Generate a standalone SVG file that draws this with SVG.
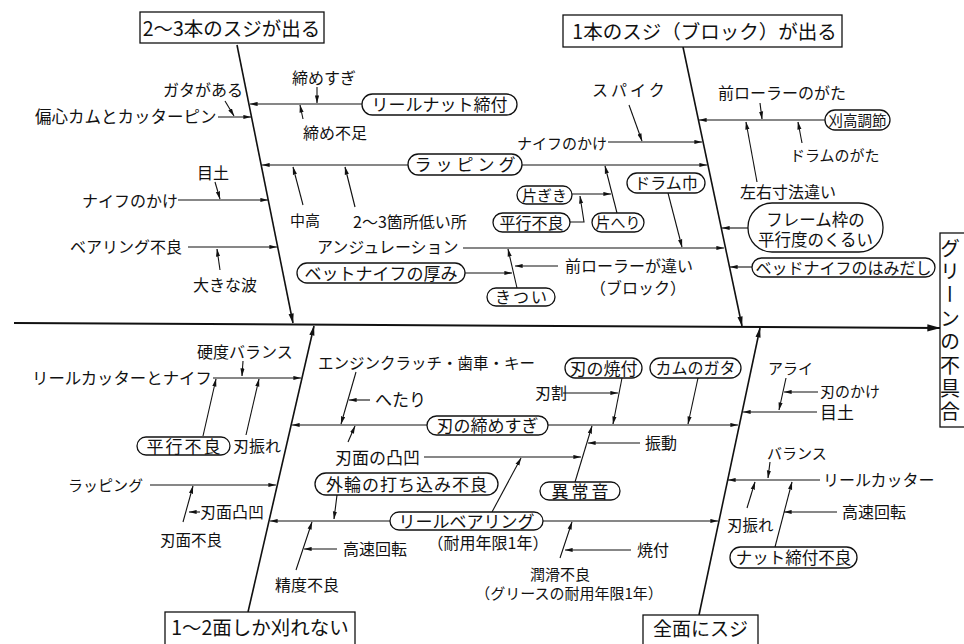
<svg xmlns="http://www.w3.org/2000/svg" width="964" height="644" viewBox="0 0 964 644">
<style>
svg{font-family:"Noto Sans CJK JP","Noto Sans CJK SC",sans-serif;font-size:16px}
text{fill:#111}
.m{text-anchor:middle}
.c line,.c path{stroke:#111;stroke-width:1.1;fill:none;marker-end:url(#ah)}
.c .bone{stroke-width:1.6;marker-end:url(#ah2)}
.c .sp{stroke-width:2;marker-end:url(#AH)}
.pill{fill:#fff;stroke:#111;stroke-width:1.3}
.box{fill:#fff;stroke:#111;stroke-width:1.3}
</style>
<defs>
<marker id="ah" viewBox="0 0 10 6" refX="9.5" refY="3" markerWidth="8" markerHeight="5" markerUnits="userSpaceOnUse" orient="auto"><path d="M0,0.4 L10,3 L0,5.6 z" fill="#111"/></marker>
<marker id="ah2" viewBox="0 0 10 6" refX="9.5" refY="3" markerWidth="10" markerHeight="6" markerUnits="userSpaceOnUse" orient="auto"><path d="M0,0.4 L10,3 L0,5.6 z" fill="#111"/></marker>
<marker id="AH" viewBox="0 0 10 6" refX="9.5" refY="3" markerWidth="14" markerHeight="8" markerUnits="userSpaceOnUse" orient="auto"><path d="M0,0.3 L10,3 L0,5.7 z" fill="#111"/></marker>
</defs>
<rect width="964" height="644" fill="#fff"/>

<g id="connectors" class="c">
<line class="sp" x1="14" y1="323" x2="940" y2="328"/>
<line class="bone" x1="237" y1="45" x2="293" y2="323"/>
<line class="bone" x1="683" y1="47" x2="742" y2="326"/>
<line class="bone" x1="248" y1="612" x2="314" y2="326"/>
<line class="bone" x1="699" y1="615" x2="760" y2="328"/>
<line x1="362" y1="104" x2="250" y2="104"/>
<line x1="317" y1="87" x2="317" y2="103"/>
<line x1="303" y1="119" x2="300" y2="105"/>
<line x1="218" y1="117" x2="251" y2="117"/>
<line x1="225" y1="101" x2="234" y2="116"/>
<line x1="408" y1="165" x2="262" y2="165"/>
<line x1="522" y1="165" x2="707" y2="165"/>
<line x1="303" y1="205" x2="293" y2="167"/>
<line x1="355" y1="207" x2="345" y2="167"/>
<line x1="178" y1="200" x2="268" y2="200"/>
<line x1="215" y1="182" x2="220" y2="199"/>
<line x1="188" y1="247" x2="277" y2="247"/>
<line x1="220" y1="270" x2="217" y2="249"/>
<line x1="629" y1="105" x2="642" y2="141"/>
<line x1="608" y1="142" x2="702" y2="142"/>
<line x1="825" y1="120" x2="699" y2="120"/>
<line x1="760" y1="103" x2="762" y2="119"/>
<line x1="802" y1="143" x2="798" y2="122"/>
<line x1="757" y1="182" x2="746" y2="122"/>
<line x1="617" y1="213" x2="605" y2="166"/>
<line x1="572" y1="194" x2="611" y2="194"/>
<path d="M570,222 L584,222 L580,196"/>
<line x1="668" y1="193" x2="682" y2="247"/>
<line x1="463" y1="248" x2="724" y2="248"/>
<line x1="517" y1="288" x2="508" y2="249"/>
<line x1="465" y1="273" x2="512" y2="273"/>
<line x1="558" y1="266" x2="515" y2="266"/>
<line x1="748" y1="228" x2="722" y2="228"/>
<line x1="752" y1="267" x2="730" y2="267"/>
<line x1="213" y1="378" x2="301" y2="378"/>
<line x1="243" y1="361" x2="242" y2="376"/>
<line x1="203" y1="436" x2="216" y2="379"/>
<line x1="246" y1="435" x2="259" y2="379"/>
<line x1="427" y1="425" x2="292" y2="425"/>
<line x1="548" y1="425" x2="738" y2="425"/>
<line x1="356" y1="372" x2="341" y2="424"/>
<line x1="370" y1="400" x2="349" y2="400"/>
<line x1="348" y1="442" x2="355" y2="426"/>
<line x1="424" y1="457" x2="581" y2="457"/>
<line x1="492" y1="512" x2="521" y2="458"/>
<line x1="150" y1="485" x2="276" y2="485"/>
<line x1="183" y1="522" x2="193" y2="486"/>
<line x1="200" y1="512" x2="189" y2="512"/>
<line x1="390" y1="521" x2="270" y2="521"/>
<line x1="543" y1="521" x2="718" y2="521"/>
<line x1="337" y1="495" x2="334" y2="519"/>
<line x1="296" y1="570" x2="312" y2="522"/>
<line x1="337" y1="549" x2="304" y2="549"/>
<line x1="575" y1="482" x2="592" y2="426"/>
<line x1="640" y1="443" x2="588" y2="443"/>
<line x1="622" y1="378" x2="613" y2="424"/>
<line x1="563" y1="393" x2="618" y2="393"/>
<line x1="698" y1="378" x2="688" y2="424"/>
<line x1="560" y1="558" x2="572" y2="522"/>
<line x1="631" y1="550" x2="565" y2="550"/>
<line x1="817" y1="412" x2="743" y2="412"/>
<line x1="786" y1="378" x2="779" y2="410"/>
<line x1="818" y1="392" x2="784" y2="392"/>
<line x1="820" y1="480" x2="728" y2="480"/>
<line x1="770" y1="462" x2="768" y2="478"/>
<line x1="747" y1="508" x2="755" y2="482"/>
<line x1="775" y1="547" x2="792" y2="482"/>
<line x1="837" y1="512" x2="784" y2="512"/>
</g>

<g id="effect"><rect class="box" x="940" y="233" width="40" height="194"/><text x="950" y="238" font-size="20" writing-mode="vertical-rl" letter-spacing="3.4">グリーンの不具合</text></g>
<g id="cat1"><rect class="box" x="140" y="12" width="184" height="31"/><text class="m" x="231.5" y="35.5" font-size="19.5">2〜3本のスジが出る</text></g>
<g id="cat2"><rect class="box" x="563" y="15" width="279" height="32"/><text class="m" x="704.5" y="38.5" font-size="19.5">1本のスジ（ブロック）が出る</text></g>
<g id="cat3"><rect class="box" x="165" y="612" width="190" height="40"/><text class="m" x="260" y="635" font-size="19.5">1〜2面しか刈れない</text></g>
<g id="cat4"><rect class="box" x="643" y="615" width="115" height="40"/><text class="m" x="700.5" y="636" font-size="19">全面にスジ</text></g>

<g id="p-nut"><rect class="pill" x="362" y="94" width="155" height="21" rx="10.5"/><text class="m" x="439.5" y="111" font-size="17">リールナット締付</text></g>
<g id="p-lap"><rect class="pill" x="408" y="154" width="114" height="21" rx="10.5"/><text class="m" x="467" y="171" font-size="17" letter-spacing="4">ラッピング</text></g>
<g id="p-kata"><rect class="pill" x="517" y="186" width="55" height="18" rx="9"/><text class="m" x="544.5" y="200.7" font-size="15">片ぎき</text></g>
<g id="p-heiko1"><rect class="pill" x="493" y="213" width="77" height="19" rx="9.5"/><text class="m" x="531.5" y="228.5" font-size="16">平行不良</text></g>
<g id="p-kataheri"><rect class="pill" x="592" y="213" width="52" height="19" rx="9.5"/><text class="m" x="618" y="228" font-size="15">片へり</text></g>
<g id="p-drum"><rect class="pill" x="627" y="173" width="78" height="20" rx="10"/><text class="m" x="666" y="189" font-size="16">ドラム巾</text></g>
<g id="p-frame"><rect class="pill" x="748" y="203" width="135" height="49" rx="24"/><text class="m" x="815.5" y="226" font-size="16.5"><tspan x="815.5">フレーム枠の</tspan><tspan x="815.5" dy="20">平行度のくるい</tspan></text></g>
<g id="p-hamidashi"><rect class="pill" x="752" y="258" width="183" height="19" rx="9.5"/><text class="m" x="843.5" y="273.5" font-size="16">ベッドナイフのはみだし</text></g>
<g id="p-atsumi"><rect class="pill" x="297" y="263" width="168" height="20" rx="10"/><text class="m" x="381" y="279.5" font-size="17">ベットナイフの厚み</text></g>
<g id="p-kitsui"><rect class="pill" x="487" y="288" width="68" height="18" rx="9"/><text class="m" x="522" y="303" font-size="16" letter-spacing="2">きつい</text></g>
<g id="p-karitaka"><rect class="pill" x="825" y="110" width="65" height="20" rx="10"/><text class="m" x="857.5" y="125.5" font-size="14.5">刈高調節</text></g>
<g id="p-heiko2"><rect class="pill" x="137" y="437" width="93" height="18" rx="9"/><text class="m" x="184.5" y="452.5" font-size="17" letter-spacing="2">平行不良</text></g>
<g id="p-shime"><rect class="pill" x="427" y="416" width="121" height="19" rx="9.5"/><text class="m" x="487.5" y="432" font-size="17">刃の締めすぎ</text></g>
<g id="p-yaki"><rect class="pill" x="565" y="358" width="77" height="20" rx="10"/><text class="m" x="603.5" y="374.5" font-size="17">刃の焼付</text></g>
<g id="p-cam"><rect class="pill" x="650" y="358" width="91" height="20" rx="10"/><text class="m" x="695.5" y="374" font-size="16">カムのガタ</text></g>
<g id="p-gairin"><rect class="pill" x="315" y="473" width="183" height="22" rx="11"/><text class="m" x="407" y="490.5" font-size="17" letter-spacing="1">外輪の打ち込み不良</text></g>
<g id="p-ijo"><rect class="pill" x="540" y="482" width="80" height="18" rx="9"/><text class="m" x="581.5" y="497.5" font-size="17" letter-spacing="3">異常音</text></g>
<g id="p-bearing"><rect class="pill" x="390" y="512" width="153" height="18" rx="9"/><text class="m" x="466.5" y="527.5" font-size="17">リールベアリング</text></g>
<g id="p-nutfuryo"><rect class="pill" x="730" y="547" width="127" height="21" rx="10.5"/><text class="m" x="793.5" y="564" font-size="16.5">ナット締付不良</text></g>

<g id="labels">
<text x="292" y="84">締めすぎ</text>
<text x="303" y="139">締め不足</text>
<text x="163" y="96">ガタがある</text>
<text x="35" y="123" font-size="16.5">偏心カムとカッターピン</text>
<text x="197" y="179">目土</text>
<text x="82" y="207">ナイフのかけ</text>
<text x="70" y="253">ベアリング不良</text>
<text x="193" y="291">大きな波</text>
<text x="290" y="226" font-size="15">中高</text>
<text x="353" y="228">2〜3箇所低い所</text>
<text x="317" y="253">アンジュレーション</text>
<text x="565" y="272">前ローラーが違い</text>
<text x="590" y="294">（ブロック）</text>
<text x="592" y="96" letter-spacing="3">スパイク</text>
<text x="517" y="149" font-size="15">ナイフのかけ</text>
<text x="718" y="99">前ローラーのがた</text>
<text x="790" y="161" font-size="15">ドラムのがた</text>
<text x="740" y="198">左右寸法違い</text>
<text x="197" y="358">硬度バランス</text>
<text x="32" y="384" font-size="16.4">リールカッターとナイフ</text>
<text x="233" y="452">刃振れ</text>
<text x="68" y="491" font-size="15">ラッピング</text>
<text x="200" y="518">刃面凸凹</text>
<text x="160" y="546" font-size="15.5">刃面不良</text>
<text x="318" y="369" font-size="15.5">エンジンクラッチ・歯車・キー</text>
<text x="375" y="406" font-size="17">へたり</text>
<text x="335" y="464" font-size="17">刃面の凸凹</text>
<text x="535" y="399">刃割</text>
<text x="645" y="449">振動</text>
<text x="768" y="374" font-size="15">アライ</text>
<text x="820" y="397" font-size="15">刃のかけ</text>
<text x="820" y="419" font-size="17">目土</text>
<text x="767" y="459" font-size="15">バランス</text>
<text x="823" y="486">リールカッター</text>
<text x="727" y="531" font-size="15.5">刃振れ</text>
<text x="842" y="518">高速回転</text>
<text x="343" y="555">高速回転</text>
<text x="275" y="591">精度不良</text>
<text class="m" x="488" y="549">（耐用年限1年）</text>
<text x="530" y="580" font-size="15">潤滑不良</text>
<text class="m" x="569" y="599" font-size="15">（グリースの耐用年限1年）</text>
<text x="637" y="556">焼付</text>
</g>
</svg>
